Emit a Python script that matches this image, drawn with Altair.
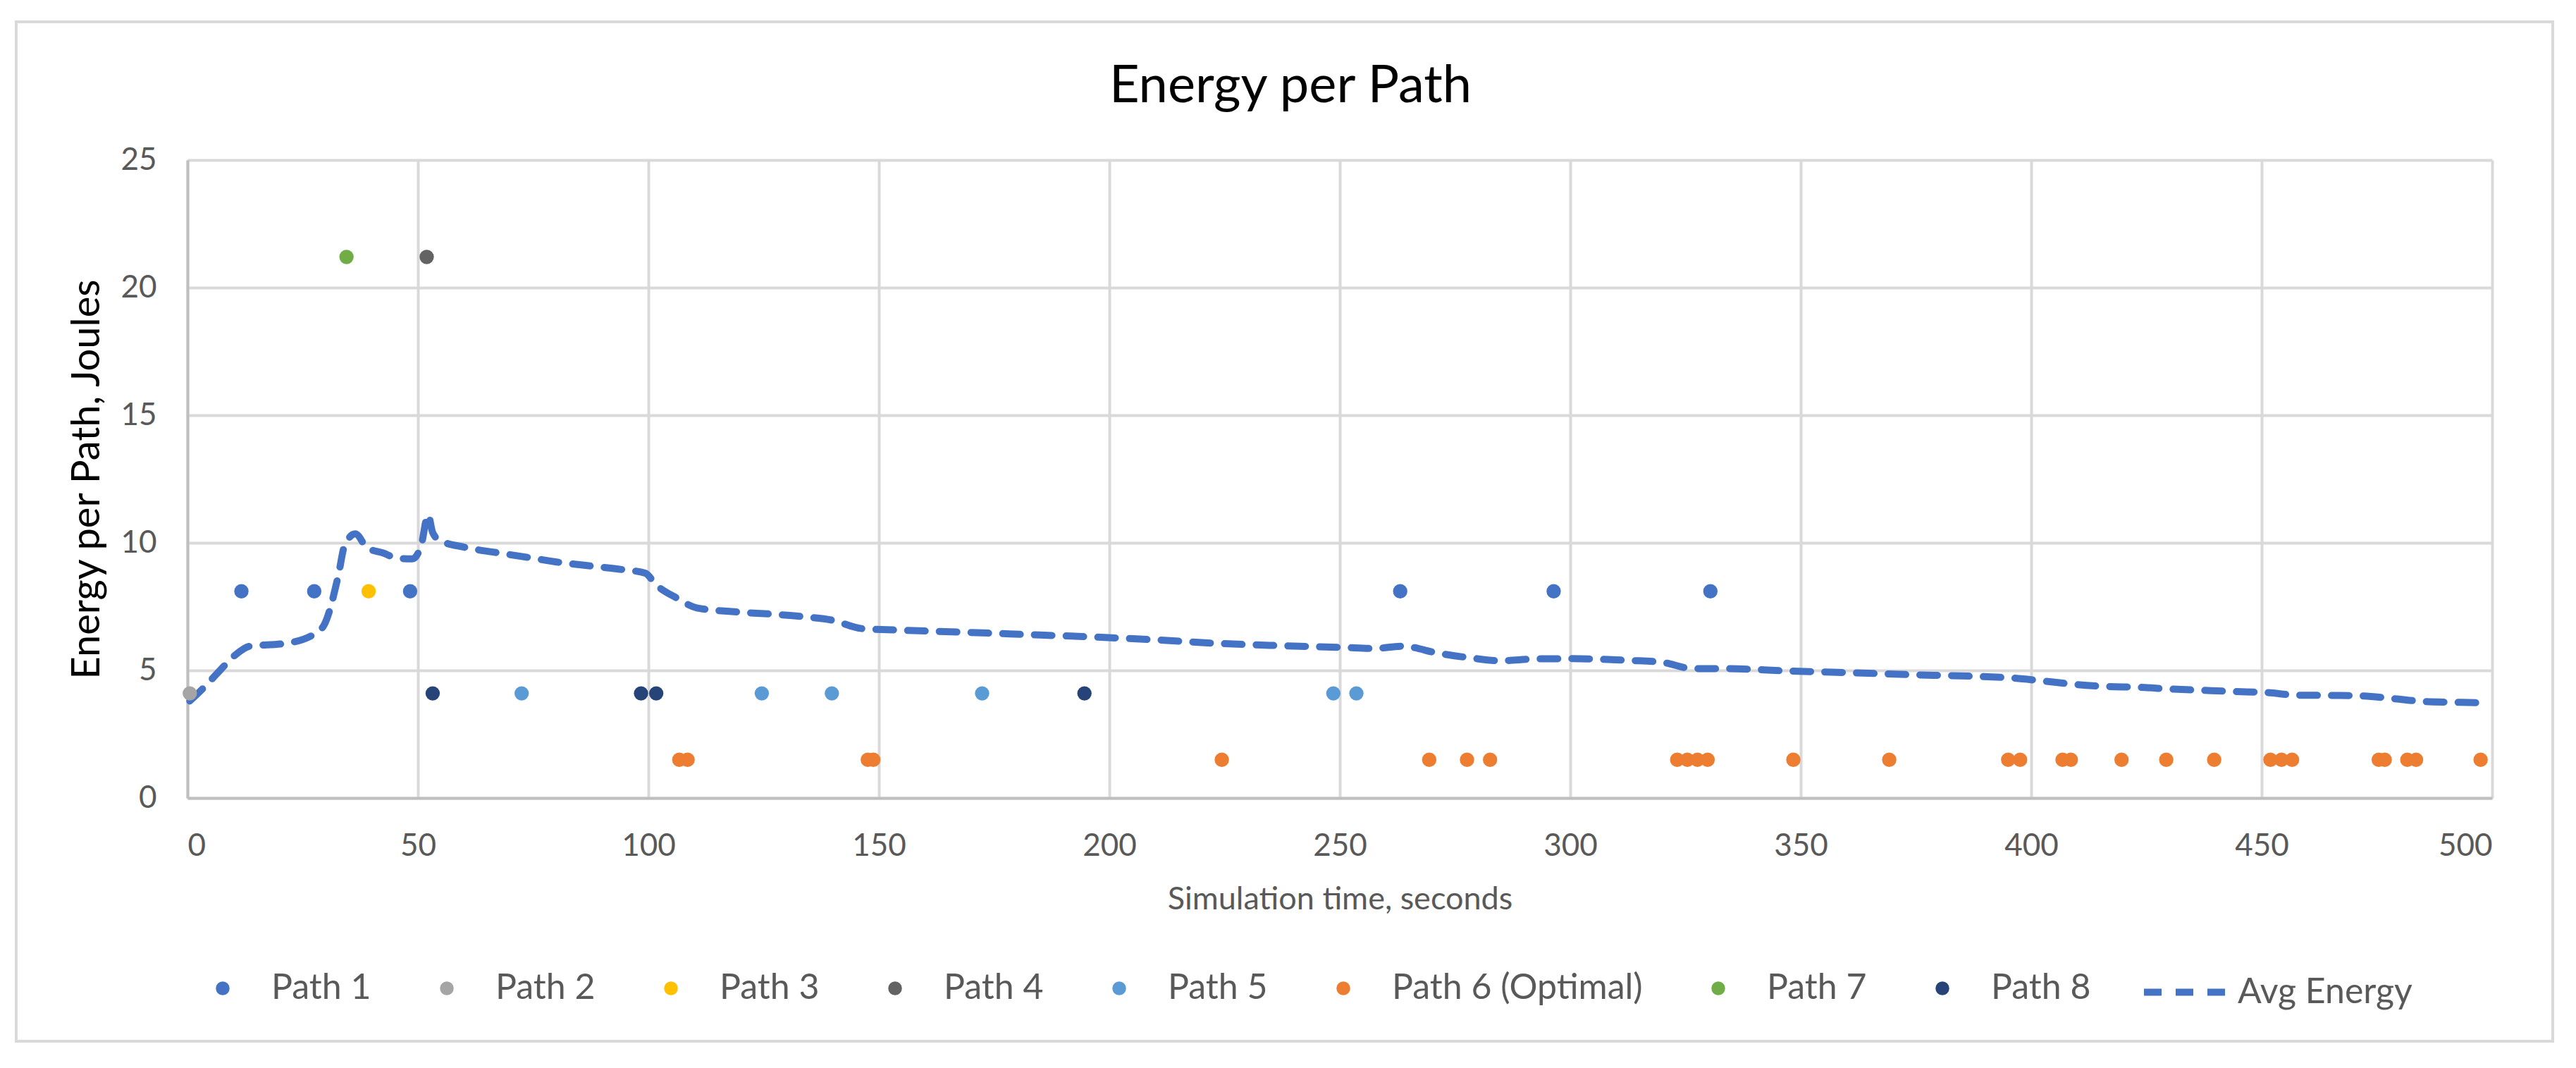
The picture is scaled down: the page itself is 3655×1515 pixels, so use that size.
import altair as alt
import pandas as pd

# ---------------- data ----------------
path_names = ["Path 1", "Path 2", "Path 3", "Path 4", "Path 5",
              "Path 6 (Optimal)", "Path 7", "Path 8"]
path_colors = ["#4472C4", "#A5A5A5", "#FFC000", "#636363", "#5B9BD5",
               "#ED7D31", "#70AD47", "#264478"]

p1_x = [11.7, 27.5, 48.3, 263.1, 296.4, 330.4]
p1_y = [8.1, 8.1, 8.1, 8.1, 8.1, 8.1]
p2_x = [0.5]
p2_y = [4.1]
p3_x = [39.3]
p3_y = [8.1]
p4_x = [51.9]
p4_y = [21.2]
p5_x = [72.5, 124.6, 139.8, 172.4, 248.6, 253.6]
p5_y = [4.1, 4.1, 4.1, 4.1, 4.1, 4.1]
p6_x = [106.7, 108.5, 147.6, 148.8, 224.4, 269.4, 277.6, 282.6, 323.2, 325.4,
        327.6, 329.8, 348.4, 369.2, 395.0, 397.6, 406.8, 408.6, 419.6, 429.3,
        439.7, 451.9, 454.3, 456.6, 475.4, 476.7, 481.6, 483.5, 497.5]
p6_y = [1.5] * 29
p7_x = [34.5]
p7_y = [21.2]
p8_x = [53.2, 98.4, 101.7, 194.6]
p8_y = [4.1, 4.1, 4.1, 4.1]

avg_x = [0.5, 3.4, 6.8, 10.2, 13.6, 20.9, 27.3, 29.7, 32.7, 34.1, 36.4, 39.0,
         42.5, 45.4, 48.8, 50.7, 52.2, 53.2, 54.7, 60.0, 67.6, 74.5, 80.8,
         87.6, 94.4, 99.3, 101.7, 106.1, 110.5, 119.3, 127.1, 133.9, 139.8,
         146.3, 154.1, 167.8, 181.4, 195.1, 208.8, 223.4, 237.1, 250.8, 257.6,
         263.4, 271.5, 278.4, 284.7, 292.5, 299.3, 313.0, 319.8, 326.7, 333.5,
         347.2, 360.8, 374.5, 389.1, 396.0, 402.8, 409.6, 416.5, 423.2, 430.2,
         437.2, 444.2, 451.2, 457.8, 464.8, 471.8, 478.8, 485.4, 492.4, 497.9]
avg_y = [3.8, 4.3, 4.95, 5.58, 5.95, 6.05, 6.4, 6.8, 8.7, 9.9, 10.35, 9.8,
         9.6, 9.4, 9.37, 9.9, 11.1, 10.4, 10.1, 9.83, 9.6, 9.41, 9.23,
         9.09, 8.95, 8.81, 8.35, 7.84, 7.45, 7.29, 7.2, 7.1, 6.97,
         6.64, 6.58, 6.5, 6.41, 6.32, 6.21, 6.06, 5.97, 5.9, 5.86,
         5.95, 5.67, 5.49, 5.38, 5.45, 5.46, 5.39, 5.32, 5.07, 5.07,
         4.98, 4.91, 4.83, 4.76, 4.7, 4.58, 4.45, 4.37, 4.34, 4.27,
         4.22, 4.17, 4.13, 4.03, 4.02, 4.0, 3.89, 3.78, 3.75, 3.73]

x_ticks = [0, 50, 100, 150, 200, 250, 300, 350, 400, 450, 500]
y_ticks = [0, 5, 10, 15, 20, 25]

# ---------------- tables ----------------
series_xy = [(p1_x, p1_y), (p2_x, p2_y), (p3_x, p3_y), (p4_x, p4_y),
             (p5_x, p5_y), (p6_x, p6_y), (p7_x, p7_y), (p8_x, p8_y)]
rows = []
for name, (xs, ys) in zip(path_names, series_xy):
    for xv, yv in zip(xs, ys):
        rows.append({"t": xv, "e": yv, "series": name})
points_df = pd.DataFrame(rows)
avg_df = pd.DataFrame({"t": avg_x, "e": avg_y, "series": ["Avg Energy"] * len(avg_x)})

FONT = "Lato"
GRAY = "#595959"
W, H = 3270, 905

x_scale = alt.Scale(domain=[0, 500], nice=False)
y_scale = alt.Scale(domain=[0, 25], nice=False)

x_axis = alt.Axis(title="Simulation time, seconds", values=x_ticks, format="d",
                  labelFont=FONT, labelFontSize=44, labelColor=GRAY,
                  labelPadding=46, ticks=False, tickSize=0,
                  titleFont=FONT, titleFontSize=45, titleColor=GRAY,
                  titleFontWeight="normal", titleBaseline="alphabetic",
                  titleY=157, grid=True, gridColor="#D9D9D9", gridWidth=4,
                  domainColor="#BFBFBF", domainWidth=4)
y_axis = alt.Axis(title="Energy per Path, Joules", values=y_ticks, format="d",
                  labelFont=FONT, labelFontSize=44, labelColor=GRAY,
                  labelPadding=44, ticks=False, tickSize=0,
                  titleFont=FONT, titleFontSize=56, titleColor="#000000",
                  titleFontWeight="normal", titleBaseline="alphabetic",
                  titleAngle=270, titleX=-126, titleY=H / 2,
                  grid=True, gridColor="#D9D9D9", gridWidth=4,
                  domainColor="#BFBFBF", domainWidth=4)

frame = alt.Chart(pd.DataFrame({"a": [0]})).mark_rect(
    filled=False, stroke="#D9D9D9", strokeWidth=4
).encode(
    x=alt.value(-243), x2=alt.value(3356), y=alt.value(-196), y2=alt.value(1250)
)

line = alt.Chart(avg_df).mark_line(
    interpolate="monotone", strokeWidth=10, strokeCap="round", color="#4472C4"
).encode(
    x=alt.X("t:Q", scale=x_scale, axis=x_axis),
    y=alt.Y("e:Q", scale=y_scale, axis=y_axis),
    strokeDash=alt.StrokeDash(
        "series:N",
        scale=alt.Scale(domain=["Avg Energy"], range=[[25, 20]]),
        legend=alt.Legend(
            title=None, orient="none", legendX=2771, legendY=1117,
            direction="horizontal", symbolType="stroke", symbolSize=13689,
            symbolStrokeWidth=10, symbolStrokeColor="#4472C4",
            labelFont=FONT, labelFontSize=50, labelColor=GRAY,
            labelOffset=11, labelLimit=800, padding=0
        ),
    ),
)

points = alt.Chart(points_df).mark_circle(size=415, opacity=1).encode(
    x=alt.X("t:Q", scale=x_scale, axis=x_axis),
    y=alt.Y("e:Q", scale=y_scale, axis=y_axis),
    color=alt.Color(
        "series:N",
        scale=alt.Scale(domain=path_names, range=path_colors),
        legend=alt.Legend(
            title=None, orient="none", legendX=25, legendY=1150,
            direction="horizontal", symbolType="circle", symbolSize=380,
            symbolStrokeWidth=0, labelFont=FONT, labelFontSize=50,
            labelColor=GRAY, labelOffset=44, columnPadding=82, padding=0,
            labelLimit=800, gridAlign="none"
        ),
    ),
)

chart = alt.layer(frame, line, points).resolve_legend(
    color="independent", strokeDash="independent"
).properties(
    width=W, height=H,
    autosize=alt.AutoSizeParams(type="none"),
    padding={"left": 258, "top": 219, "right": 102, "bottom": 356},
    title=alt.TitleParams("Energy per Path", font=FONT, fontSize=74,
                          fontWeight="normal", color="#000000",
                          anchor="middle", frame="group", dx=-70,
                          offset=-190, baseline="alphabetic"),
).configure(background="#FFFFFF").configure_view(stroke=None)

chart.save("out.html", embed_options={"renderer": "svg", "actions": False})
